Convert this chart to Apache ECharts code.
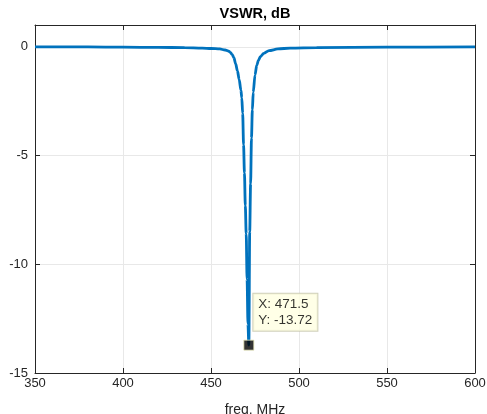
<!DOCTYPE html>
<html>
<head>
<meta charset="utf-8">
<script src="https://cdn.jsdelivr.net/npm/echarts@6/dist/echarts.min.js"></script>
<style>html,body{margin:0;padding:0;background:#fff}#c{width:487px;height:414px}</style>
</head>
<body>
<div id="c"></div>
<script>
var titleText = 'VSWR, dB';
var xLabel = 'freq, MHz';
var freq = [350, 380, 400, 420, 435, 445, 450, 455, 458, 460, 461, 462, 463, 464, 465, 466, 467, 467.5, 468, 468.5, 469, 469.5, 470, 470.5, 471, 471.5, 472, 472.5, 473, 473.5, 474, 475, 476, 477, 478, 480, 483, 488, 495, 510, 550, 600];
var vswr = [-0.01, -0.01, -0.02, -0.03, -0.04, -0.06, -0.08, -0.1, -0.15, -0.2, -0.26, -0.35, -0.5, -0.78, -1.1, -1.5, -2.0, -2.35, -3.07, -4.5, -5.8, -7.3, -8.6, -10.7, -12.75, -13.72, -8.5, -6.3, -4.2, -2.9, -2.1, -1.3, -0.85, -0.62, -0.46, -0.3, -0.18, -0.1, -0.06, -0.04, -0.02, -0.01];
var tipX = 471.5;
var tipY = -13.72;
var xTicks = [350, 400, 450, 500, 550, 600];
var yTicks = [-15, -10, -5, 0];

var axisColor = '#262626';
var fontFam = 'Liberation Sans, Arial, sans-serif';
var data = freq.map(function (f, i) { return [f, vswr[i]]; });

var chart = echarts.init(document.getElementById('c'), null, {renderer: 'canvas'});
var common = {
  axisLine: {show: true, onZero: false, lineStyle: {color: axisColor, width: 1}},
  axisTick: {show: true, inside: true, length: 5, lineStyle: {color: axisColor}}
};
chart.setOption({
  animation: false,
  backgroundColor: '#fff',
  grid: {left: 35, right: 12, top: 25, bottom: 41, containLabel: false, outerBoundsMode: 'none'},
  xAxis: [
    Object.assign({
      type: 'value', min: xTicks[0], max: xTicks[xTicks.length - 1], interval: 50, position: 'bottom',
      name: xLabel, nameLocation: 'middle', nameGap: 30,
      nameTextStyle: {fontFamily: fontFam, fontSize: 14, color: axisColor},
      axisLabel: {fontFamily: fontFam, fontSize: 13, color: axisColor, margin: 4},
      splitLine: {show: true, lineStyle: {color: '#e8e8e8', width: 1}}
    }, common),
    Object.assign({
      type: 'value', min: xTicks[0], max: xTicks[xTicks.length - 1], interval: 50, position: 'top',
      name: titleText, nameLocation: 'middle', nameGap: 4,
      nameTextStyle: {fontFamily: fontFam, fontSize: 14.5, fontWeight: 'bold', color: '#000', verticalAlign: 'bottom'},
      axisLabel: {show: false},
      splitLine: {show: false}
    }, common)
  ],
  yAxis: [
    Object.assign({
      type: 'value', min: yTicks[0], max: 1, interval: 5, position: 'left',
      axisLabel: {fontFamily: fontFam, fontSize: 13, color: axisColor, margin: 7, showMaxLabel: false,
        formatter: function (v) { return yTicks.indexOf(v) >= 0 ? String(v) : ''; }},
      splitLine: {show: true, lineStyle: {color: '#e8e8e8', width: 1}}
    }, common),
    Object.assign({
      type: 'value', min: yTicks[0], max: 1, interval: 5, position: 'right',
      axisLabel: {show: false},
      splitLine: {show: false}
    }, common)
  ],
  series: [
    {
      type: 'line', xAxisIndex: 0, yAxisIndex: 0, data: data,
      showSymbol: false, smooth: 0.3, smoothMonotone: 'x',
      lineStyle: {color: '#0072BD', width: 2.8}
    },
    {
      type: 'scatter', xAxisIndex: 0, yAxisIndex: 0, data: [[tipX, tipY]],
      symbol: 'rect', symbolSize: 10,
      itemStyle: {color: '#000', borderColor: '#e6e6b8', borderWidth: 1},
      label: {
        show: true,
        position: [10, -9],
        align: 'left', verticalAlign: 'bottom',
        formatter: 'X: ' + tipX + '\nY: ' + tipY,
        fontFamily: fontFam, fontSize: 13.5, color: '#000', lineHeight: 16,
        backgroundColor: '#ffffe1', borderColor: '#c4c4aa', borderWidth: 1,
        padding: [3, 5, 2, 5]
      },
      z: 5
    }
  ]
});
</script>
</body>
</html>
